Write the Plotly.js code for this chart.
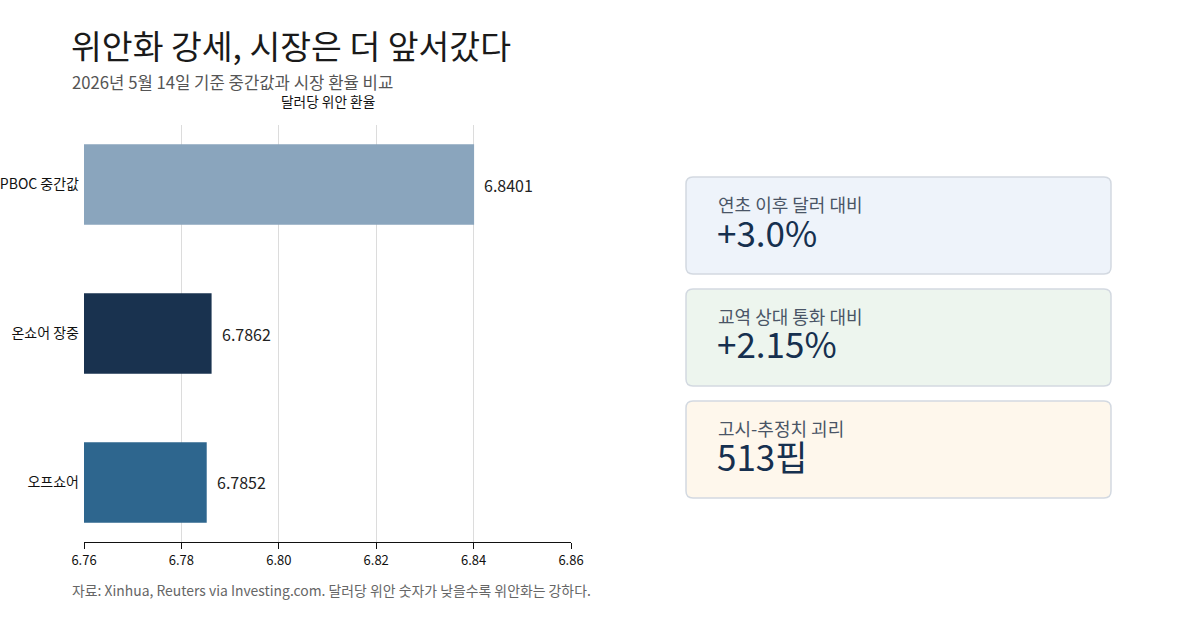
<!DOCTYPE html>
<html><head><meta charset="utf-8">
<script src="https://cdn.plot.ly/plotly-3.0.1.min.js"></script>
<style>html,body{margin:0;padding:0;background:#fff}#chart{width:1200px;height:630px}</style>
</head><body><div id="chart"></div>
<script>
const categories = ["PBOC 중간값", "온쇼어 장중", "오프쇼어"];
const rates = [6.8401, 6.7862, 6.7852];
const rateLabels = ["6.8401", "6.7862", "6.7852"];
const barColors = ["#8aa5bd", "#19324f", "#2e668e"];
const xTicks = [6.76, 6.78, 6.80, 6.82, 6.84, 6.86];
const xTickLabels = ["6.76", "6.78", "6.80", "6.82", "6.84", "6.86"];
const cardLabels = ["연초 이후 달러 대비", "교역 상대 통화 대비", "고시-추정치 괴리"];
const cardValues = ["+3.0%", "+2.15%", "513핍"];
const cardFills = ["#eef3fa", "#edf5ee", "#fef7ec"];

const FONT = "Noto Sans CJK KR, Noto Sans, sans-serif";
const W = 1200, H = 630;
const px = x => x / W;
const py = y => 1 - y / H;

function roundRect(x0, y0, x1, y1, r) {
  const X = v => px(v).toFixed(5), Y = v => py(v).toFixed(5);
  return `M ${X(x0 + r)},${Y(y0)} L ${X(x1 - r)},${Y(y0)} Q ${X(x1)},${Y(y0)} ${X(x1)},${Y(y0 + r)} ` +
    `L ${X(x1)},${Y(y1 - r)} Q ${X(x1)},${Y(y1)} ${X(x1 - r)},${Y(y1)} L ${X(x0 + r)},${Y(y1)} ` +
    `Q ${X(x0)},${Y(y1)} ${X(x0)},${Y(y1 - r)} L ${X(x0)},${Y(y0 + r)} Q ${X(x0)},${Y(y0)} ${X(x0 + r)},${Y(y0)} Z`;
}

const trace = {
  type: "bar", orientation: "h",
  x: rates, y: categories,
  marker: { color: barColors },
  width: 0.54,
  hoverinfo: "skip"
};

const annotations = [];
rates.forEach((v, i) => {
  annotations.push({
    xref: "x", yref: "y", x: v, y: categories[i], text: rateLabels[i],
    showarrow: false, xanchor: "left", xshift: 8,
    font: { family: FONT, size: 16, color: "#222" }
  });
});
annotations.push({ xref: "paper", yref: "paper", x: px(69), y: py(45), xanchor: "left", yanchor: "middle",
  text: "위안화 강세, 시장은 더 앞서갔다", showarrow: false, font: { family: FONT, size: 33.5, color: "#1a1a1a" } });
annotations.push({ xref: "paper", yref: "paper", x: px(70), y: py(82), xanchor: "left", yanchor: "middle",
  text: "2026년 5월 14일 기준 중간값과 시장 환율 비교", showarrow: false, font: { family: FONT, size: 16.7, color: "#555" } });
annotations.push({ xref: "paper", yref: "paper", x: px(328), y: py(101), xanchor: "center", yanchor: "middle",
  text: "달러당 위안 환율", showarrow: false, font: { family: FONT, size: 13.7, color: "#111" } });
annotations.push({ xref: "paper", yref: "paper", x: px(70), y: py(590), xanchor: "left", yanchor: "middle",
  text: "자료: Xinhua, Reuters via Investing.com. 달러당 위안 숫자가 낮을수록 위안화는 강하다.", showarrow: false,
  font: { family: FONT, size: 13.9, color: "#666" } });

const shapes = [];
const cardTops = [177, 289, 401];
cardTops.forEach((t, i) => {
  shapes.push({ type: "path", xref: "paper", yref: "paper", path: roundRect(686, t, 1111, t + 97, 7),
    fillcolor: cardFills[i], line: { color: "#d3d9e1", width: 1.5 }, layer: "below" });
  annotations.push({ xref: "paper", yref: "paper", x: px(716), y: py(t + 27), xanchor: "left", yanchor: "middle",
    text: cardLabels[i], showarrow: false, font: { family: FONT, size: 18, color: "#4a5566" } });
  annotations.push({ xref: "paper", yref: "paper", x: px(715), y: py(t + 54), xanchor: "left", yanchor: "middle",
    text: cardValues[i], showarrow: false, font: { family: FONT, size: 35, color: "#16304f" } });
});

const layout = {
  width: W, height: H,
  margin: { l: 0, r: 0, t: 0, b: 0 },
  paper_bgcolor: "#fff", plot_bgcolor: "#fff",
  showlegend: false,
  font: { family: FONT },
  xaxis: {
    domain: [px(84), px(571)],
    range: [6.76, 6.86],
    tickvals: xTicks, ticktext: xTickLabels,
    showgrid: true, gridcolor: "#dcdcdc", gridwidth: 1,
    zeroline: false,
    showline: true, linecolor: "#111", linewidth: 1,
    ticks: "outside", ticklen: 6, tickcolor: "#111",
    tickfont: { family: FONT, size: 13, color: "#111" },
    fixedrange: true
  },
  yaxis: {
    domain: [1 - 542 / H, 1 - 125 / H],
    type: "category",
    categoryorder: "array", categoryarray: categories,
    range: [2.4, -0.4],
    showgrid: false, zeroline: false, showline: false,
    ticks: "", ticklabelstandoff: 4,
    tickfont: { family: FONT, size: 14, color: "#111" },
    fixedrange: true
  },
  annotations: annotations,
  shapes: shapes
};

Plotly.newPlot("chart", [trace], layout, { displayModeBar: false, staticPlot: true });
</script>
</body></html>
